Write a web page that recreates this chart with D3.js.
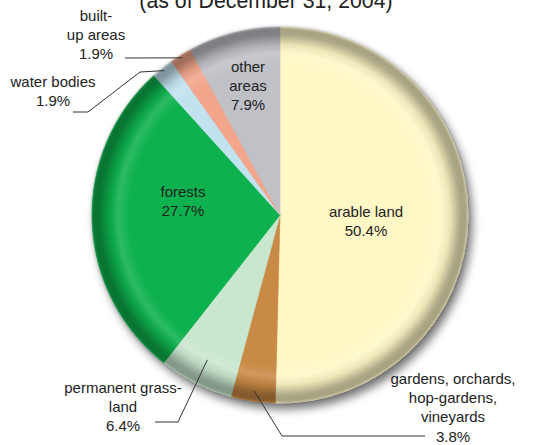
<!DOCTYPE html>
<html>
<head>
<meta charset="utf-8">
<script src="https://cdn.jsdelivr.net/npm/d3@7"></script>
<style>
  html, body { margin: 0; padding: 0; background: #ffffff; }
  svg { display: block; }
  text { font-family: "Liberation Sans", Arial, Helvetica, sans-serif; fill: #222; }
</style>
</head>
<body>
<svg id="chart" width="541" height="445"></svg>
<script>
// ---- data ----
const categories = ["arable land", "gardens, orchards, hop-gardens, vineyards", "permanent grassland",
                    "forests", "water bodies", "built-up areas", "other areas"];
const values = [50.4, 3.8, 6.4, 27.7, 1.9, 1.9, 7.9];
const sliceColors = ["#fff7c6", "#c98a45", "#c9e7cf", "#0bb14d", "#c3e2ef", "#f3a68c", "#c0c1c7"];
const labelLines = [
  ["arable land", "50.4%"],
  ["gardens, orchards,", "hop-gardens,", "vineyards", "3.8%"],
  ["permanent grass-", "land", "6.4%"],
  ["forests", "27.7%"],
  ["water bodies", "1.9%"],
  ["built-", "up areas", "1.9%"],
  ["other", "areas", "7.9%"]
];
const subtitle = "(as of December 31, 2004)";

// ---- layout ----
const W = 541, H = 445;
const cx = 280, cy = 215, R = 188;
const lineH = 19.2;
const labelPos = [
  {x: 366, y: 217},
  {x: 453, y: 384},
  {x: 123, y: 393},
  {x: 183, y: 197},
  {x: 53,  y: 87},
  {x: 96,  y: 21},
  {x: 248, y: 72}
];
const leaderR = [null, 178, 162, null, 185, 185, null];
const leaderPts = [
  null,
  [[425, 436], [282, 436]],
  [[155, 422], [178, 422]],
  null,
  [[73, 112], [88, 112], [140, 72]],
  [[125, 58]],
  null
];

const svg = d3.select("#chart");
const defs = svg.append("defs");

// drop shadow
const sh = defs.append("filter").attr("id", "shadow")
  .attr("x", "-20%").attr("y", "-20%").attr("width", "140%").attr("height", "140%");
sh.append("feGaussianBlur").attr("in", "SourceAlpha").attr("stdDeviation", 5).attr("result", "b");
sh.append("feOffset").attr("in", "b").attr("dx", 4).attr("dy", 6).attr("result", "o");
sh.append("feComponentTransfer").attr("in", "o").attr("result", "s")
  .append("feFuncA").attr("type", "linear").attr("slope", 0.55);
const m = sh.append("feMerge");
m.append("feMergeNode").attr("in", "s");
m.append("feMergeNode").attr("in", "SourceGraphic");

// soft edges
const soft = defs.append("filter").attr("id", "soft");
soft.append("feGaussianBlur").attr("stdDeviation", 1.8);

// rim bevel gradient
const rg = defs.append("radialGradient").attr("id", "rim")
  .attr("cx", cx).attr("cy", cy).attr("r", R).attr("gradientUnits", "userSpaceOnUse");
[[0, "#fff", 0], [0.80, "#fff", 0], [0.865, "#fff", 0.14], [0.90, "#000", 0.05],
 [0.96, "#000", 0.33], [1.0, "#000", 0.36]].forEach(([o, c, a]) =>
  rg.append("stop").attr("offset", o).attr("stop-color", c).attr("stop-opacity", a));

// ---- pie ----
const pie = d3.pie().sort(null).value(d => d);
const arcs = pie(values);
const arc = d3.arc().innerRadius(0).outerRadius(R);

const gShadow = svg.append("g").attr("filter", "url(#shadow)");
const gPie = gShadow.append("g").attr("transform", `translate(${cx},${cy})`);
gPie.selectAll("path.slice").data(arcs).enter().append("path")
  .attr("class", "slice")
  .attr("d", arc)
  .attr("fill", (d, i) => sliceColors[i])
  .attr("stroke", (d, i) => sliceColors[i])
  .attr("stroke-width", 0.6);

const gRim = svg.append("g").attr("filter", "url(#soft)");
gRim.append("circle").attr("cx", cx).attr("cy", cy).attr("r", R)
  .attr("fill", "url(#rim)");

// ---- leader lines ----
const gLines = svg.append("g");
arcs.forEach((d, i) => {
  if (!leaderPts[i]) return;
  const a = d3.arc().innerRadius(leaderR[i]).outerRadius(leaderR[i]);
  const c = a.centroid(d);
  const end = [cx + c[0], cy + c[1]];
  const pts = leaderPts[i].concat([end]);
  gLines.append("path")
    .attr("d", d3.line()(pts))
    .attr("fill", "none").attr("stroke", "#333").attr("stroke-width", 1);
});

// ---- labels ----
const gLab = svg.append("g");
labelLines.forEach((lines, i) => {
  const t = gLab.append("text")
    .attr("text-anchor", "middle")
    .attr("font-size", 15)
    .attr("x", labelPos[i].x).attr("y", labelPos[i].y);
  lines.forEach((ln, k) => {
    t.append("tspan").attr("x", labelPos[i].x).attr("y", labelPos[i].y + k * lineH).text(ln);
  });
});

// subtitle (cut off at the top, as in the reference)
svg.append("text")
  .attr("x", 266).attr("y", 8)
  .attr("text-anchor", "middle")
  .attr("font-size", 21.3)
  .text(subtitle);
</script>
</body>
</html>
